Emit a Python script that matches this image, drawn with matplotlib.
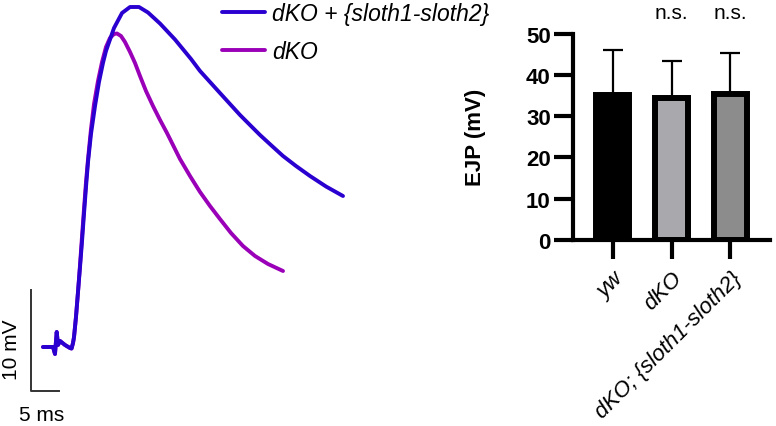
import numpy as np
from matplotlib import pyplot as plt
from matplotlib.transforms import ScaledTranslation

plt.rcParams['font.family'] = ['Liberation Sans', 'DejaVu Sans']

# =============================================================================
# data
# =============================================================================

# EJP traces (time in ms, voltage in mV relative to baseline)
t_blue = [0, 1.79, 2.14, 2.45, 2.68, 3.04, 3.93, 4.82, 5.1, 5.36, 5.54, 5.89, 6.25,
          6.61, 6.96, 7.32, 7.68, 8.04, 8.57, 9.29, 10.0, 10.71, 11.25, 12.68,
          14.11, 15.54, 17.14, 18.75, 20.89, 23.57, 26.43, 28.04, 29.82, 31.6,
          33.39, 35.18, 36.96, 38.75, 40.89, 42.86, 45.18, 47.68, 50.54, 53.57]
v_blue = [0, 0, -0.7, 1.5, 0.2, 0.6, 0.2, -0.1, -0.15, 0.4, 1.0, 3.0, 5.5,
          8.0, 10.5, 13.3, 16.0, 18.5, 21.3, 24.1, 26.5, 28.4, 29.6, 31.9,
          33.4, 34.0, 34.0, 33.45, 32.35, 30.75, 28.8, 27.6, 26.5, 25.4,
          24.3, 23.2, 22.2, 21.2, 20.1, 19.1, 18.1, 17.1, 16.05, 15.1]

t_mag = [0, 1.79, 2.14, 2.45, 2.68, 3.04, 3.93, 4.82, 5.1, 5.36, 5.54, 5.89, 6.25,
         6.61, 6.96, 7.32, 7.68, 8.04, 8.57, 9.11, 9.82, 10.54, 11.25, 11.96,
         12.68, 13.21, 13.93, 14.64, 15.54, 16.43, 17.32, 18.39, 19.64, 20.9,
         22.14, 24.46, 26.25, 28.04, 29.82, 31.6, 33.57, 35.71, 37.86, 40.18, 42.86]
v_mag = [0, 0, -0.7, 1.5, 0.2, 0.6, 0.2, -0.1, -0.15, 0.4, 1.0, 3.0, 5.5,
         8.2, 11.0, 13.8, 16.5, 18.8, 21.8, 24.3, 26.6, 28.5, 30.0, 30.9,
         31.3, 31.35, 31.1, 30.5, 29.5, 28.4, 27.1, 25.6, 24.1, 22.7,
         21.4, 18.8, 17.1, 15.5, 14.1, 12.8, 11.4, 10.1, 9.1, 8.3, 7.6]

trace_labels = ['dKO + {sloth1-sloth2}', 'dKO']

# bar chart
groups = ['yw', 'dKO', 'dKO; {sloth1-sloth2}']
ejp_mean = [35.2, 34.4, 35.5]
ejp_err = [10.8, 9.1, 9.8]
sig = ['', 'n.s.', 'n.s.']

blue = '#2a00d0'
magenta = '#9a00b8'
bar_colors = ['#000000', '#a9a9ad', '#8c8c8c']

# =============================================================================
# figure
# =============================================================================

fig = plt.figure(figsize=(7.76, 4.27), dpi=100)

# traces, axes over the whole figure: 5.6 px per ms, 10 px per mV
ax = fig.add_axes([0, 0, 1, 1])
ax.set_xlim(-43 / 5.6, (776 - 43) / 5.6)
ax.set_ylim(-7.9, 34.8)
ax.axis('off')

ax.plot(t_mag, v_mag, color=magenta, lw=2.8, solid_capstyle='round',
        solid_joinstyle='round', label=trace_labels[1])
ax.plot(t_blue, v_blue, color=blue, lw=2.8, solid_capstyle='round',
        solid_joinstyle='round', label=trace_labels[0])

# scale bars
ax.plot([-2.14, -2.14, 2.86], [5.7, -4.4, -4.4], color='#333333', lw=1.4)
ax.text(-5.55, -0.2, '10 mV', rotation=90, ha='center', va='center', fontsize=15)
ax.text(-0.23, -6.8, '5 ms', ha='center', va='center', fontsize=15)

h, l = ax.get_legend_handles_labels()
leg = ax.legend(h[::-1], l[::-1], loc='upper left', bbox_to_anchor=(222 / 776, 1 - 3 / 427),
                frameon=False, fontsize=16.5, handlelength=1.88, handletextpad=0.3,
                labelspacing=0.65, borderpad=0, borderaxespad=0)
for txt in leg.get_texts():
    txt.set_fontstyle('italic')
for ln in leg.get_lines():
    ln.set_linewidth(2.8)

# bars
bx = fig.add_axes([573 / 776, (427 - 240.7) / 427, 197 / 776, 205.7 / 427])
bx.set_facecolor('none')
x = np.arange(len(groups))
bx.bar(x, ejp_mean, width=0.55, color=bar_colors, edgecolor='black', linewidth=4.3)
bx.errorbar(x, ejp_mean, yerr=[np.zeros(len(x)), ejp_err], fmt='none',
            ecolor='black', elinewidth=1.6, capsize=7.5, capthick=1.6, zorder=1)
for i, s in enumerate(sig):
    if s:
        bx.text(x[i], 55.3, s, ha='center', va='center', fontsize=15, clip_on=False)

bx.set_xlim(-0.67, 2.67)
bx.set_ylim(0, 50)
bx.set_yticks([0, 10, 20, 30, 40, 50])
bx.set_xticks(x)
bx.set_xticklabels(groups, rotation=45, ha='right', va='top', rotation_mode='anchor',
                   fontsize=16, fontstyle='italic')
shift = ScaledTranslation(-6 / 100, 2 / 100, fig.dpi_scale_trans)
for lab in bx.get_xticklabels():
    lab.set_transform(lab.get_transform() + shift)
for lab in bx.get_yticklabels():
    lab.set_fontweight('bold')
    lab.set_fontsize(16)
bx.tick_params(axis='both', length=14, width=3, pad=2)
bx.tick_params(axis='x', pad=6)
bx.set_ylabel('EJP (mV)', fontsize=16, fontweight='bold', labelpad=29)
for side in ['top', 'right']:
    bx.spines[side].set_visible(False)
for side in ['left', 'bottom']:
    bx.spines[side].set_linewidth(3)

plt.savefig('out.png', dpi=100)
